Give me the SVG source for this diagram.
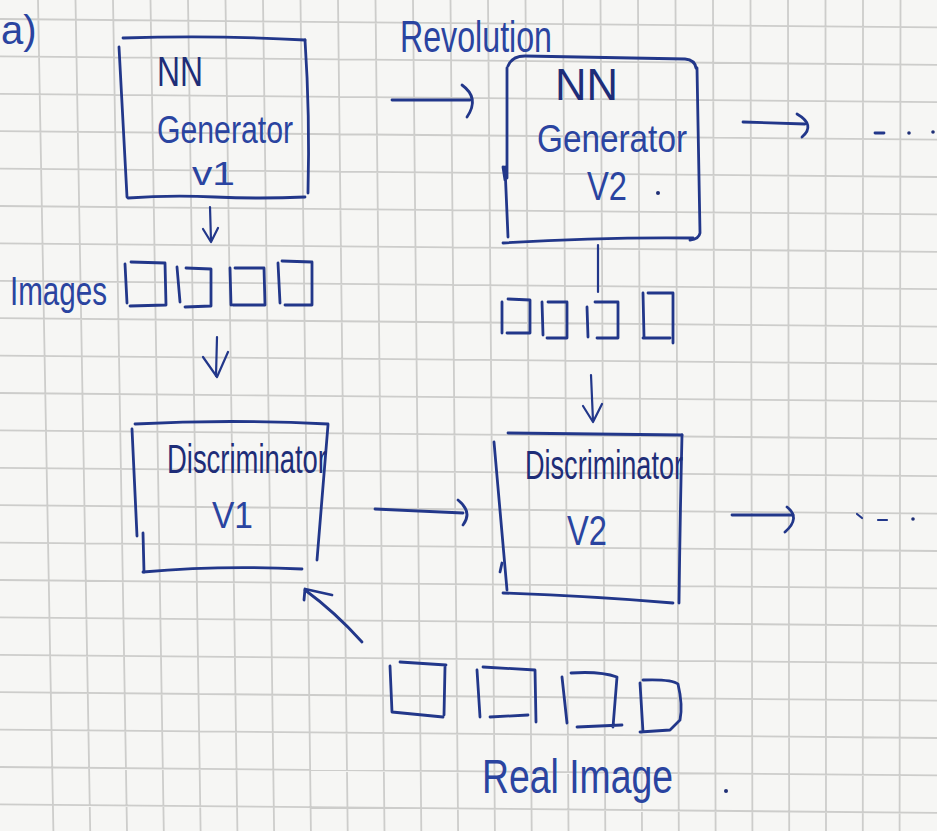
<svg xmlns="http://www.w3.org/2000/svg" width="937" height="831" viewBox="0 0 937 831">
  <style>
    .paper { fill: #f6f6f4; }
    .grid { fill: none; stroke: #cdcdcb; stroke-width: 1.8; }
    .ink { fill: none; stroke: #22378a; stroke-width: 2.8; stroke-linecap: round; stroke-linejoin: round; }
    .ink-thin { fill: none; stroke: #22378a; stroke-width: 2.2; stroke-linecap: round; stroke-linejoin: round; }
    .dot { fill: #1f2f75; }
    .hand { fill: #2a44a0; font-family: "Liberation Sans", "DejaVu Sans", sans-serif; }
    .hand-dark { fill: #1e2d78; font-family: "Liberation Sans", "DejaVu Sans", sans-serif; }
  </style>

  <!-- squared paper -->
  <rect class="paper" x="0" y="0" width="937" height="831"/>
  <path class="grid" d="
    M38,0 L53.4,831 M75.5,0 L90.2,831 M113,0 L127,831 M150.5,0 L163.8,831
    M188,0 L200.6,831 M225.5,0 L237.4,831 M263,0 L274.1,831 M300.5,0 L310.9,831
    M338,0 L347.7,831 M375.5,0 L384.5,831 M413,0 L421.3,831 M450.5,0 L458.1,831
    M488,0 L494.9,831 M525.5,0 L531.7,831 M563,0 L568.5,831 M600.5,0 L605.3,831
    M638,0 L642,831 M675.5,0 L678.8,831 M713,0 L715.6,831 M750.5,0 L752.4,831
    M788,0 L789.2,831 M825.5,0 L826,831 M863,0 L862.8,831 M900.5,0 L899.6,831
    M0,19 L937,27.4 M0,56.4 L937,64.8 M0,93.8 L937,102.2 M0,131.2 L937,139.6
    M0,168.6 L937,177 M0,206 L937,214.4 M0,243.4 L937,251.8 M0,280.8 L937,289.2
    M0,318.2 L937,326.6 M0,355.6 L937,364 M0,393 L937,401.4 M0,430.4 L937,438.8
    M0,467.8 L937,476.2 M0,505.2 L937,513.6 M0,542.6 L937,551 M0,580 L937,588.4
    M0,617.4 L937,625.8 M0,654.8 L937,663.2 M0,692.2 L937,700.6 M0,729.6 L937,738
    M0,767 L937,775.4 M0,804.4 L937,812.8"/>

  <!-- figure tag -->
  <text class="hand" x="1" y="44" font-size="40">a)</text>

  <!-- generator, first version -->
  <g id="gen-v1">
    <path class="ink" d="M123,38 Q215,35 305,40"/>
    <path class="ink" d="M119,47 L127,197"/>
    <path class="ink" d="M305,40 Q310,115 308,193"/>
    <path class="ink" d="M128,198 Q170,195 215,197 Q260,199 305,197"/>
    <text class="hand-dark" x="157" y="86" font-size="42" textLength="46" lengthAdjust="spacingAndGlyphs">NN</text>
    <text class="hand" x="157" y="143" font-size="38" textLength="136" lengthAdjust="spacingAndGlyphs">Generator</text>
    <text class="hand" x="192" y="185" font-size="34" textLength="43" lengthAdjust="spacingAndGlyphs">v1</text>
  </g>

  <!-- generator, second version -->
  <g id="gen-v2">
    <path class="ink" d="M508,66 Q512,56 525,56 L685,59 Q695,60 696,68"/>
    <path class="ink" d="M697,68 L700,233 Q699,239 690,240"/>
    <path class="ink" d="M507,68 L507,178"/>
    <path class="ink" d="M503,167 L505,180 M505,167 L508,237"/>
    <path class="ink" d="M503,243 Q600,237 693,238"/>
    <text class="hand-dark" x="555" y="100" font-size="44" textLength="63" lengthAdjust="spacingAndGlyphs">NN</text>
    <text class="hand" x="537" y="152" font-size="38" textLength="150" lengthAdjust="spacingAndGlyphs">Generator</text>
    <text class="hand" x="587" y="200" font-size="40" textLength="40" lengthAdjust="spacingAndGlyphs">V2</text>
    <circle class="dot" cx="658" cy="193" r="2"/>
  </g>

  <!-- discriminator, first version -->
  <g id="disc-v1">
    <path class="ink" d="M135,424 Q230,419 328,424"/>
    <path class="ink" d="M132,429 L137,536"/>
    <path class="ink" d="M143,533 L144,572"/>
    <path class="ink" d="M143,572 Q220,565 302,569"/>
    <path class="ink" d="M328,425 L317,560"/>
    <text class="hand-dark" x="167" y="473" font-size="40" textLength="160" lengthAdjust="spacingAndGlyphs">Discriminator</text>
    <text class="hand" x="212" y="528" font-size="36" textLength="41" lengthAdjust="spacingAndGlyphs">V1</text>
  </g>

  <!-- discriminator, second version -->
  <g id="disc-v2">
    <path class="ink" d="M508,433 L682,435"/>
    <path class="ink" d="M494,442 L507,590"/>
    <path class="ink" d="M502,563 L500,572"/>
    <path class="ink" d="M682,435 Q680,520 679,603"/>
    <path class="ink" d="M503,593 Q590,596 673,603"/>
    <text class="hand-dark" x="525" y="479" font-size="40" textLength="158" lengthAdjust="spacingAndGlyphs">Discriminator</text>
    <text class="hand" x="567" y="545" font-size="42" textLength="40" lengthAdjust="spacingAndGlyphs">V2</text>
  </g>

  <!-- generated images, first version -->
  <g id="images-v1">
    <text class="hand" x="10" y="305" font-size="40" textLength="97" lengthAdjust="spacingAndGlyphs">Images</text>
    <path class="ink" d="M125,264 L127,303 M131,262 L165,263 L166,305 L130,306"/>
    <path class="ink" d="M177,267 L180,302 M186,268 L211,269 L211,306 L185,307"/>
    <path class="ink" d="M230,268 L231,305 M235,268 L264,268 L265,305 L233,305"/>
    <path class="ink" d="M278,263 L280,303 M282,261 L312,262 L312,305 L285,305"/>
  </g>

  <!-- generated images, second version -->
  <g id="images-v2">
    <path class="ink" d="M502,302 L502,333 M508,299 L530,300 L530,333 L507,333"/>
    <path class="ink" d="M542,302 L543,335 M548,302 L567,302 L567,338 L547,338"/>
    <path class="ink" d="M587,307 L588,337 M595,302 L618,302 L618,338 L597,338"/>
    <path class="ink" d="M643,293 L644,337 M648,293 L673,293 L673,343 M643,338 L670,338"/>
  </g>

  <!-- real images -->
  <g id="real-images">
    <path class="ink" d="M400,662 L446,665 M390,666 L392,712 L443,717 M445,667 L444,715"/>
    <path class="ink" d="M477,670 L480,717 M483,667 L535,670 L536,722 M490,717 L528,715"/>
    <path class="ink" d="M562,677 L567,723 M571,673 Q600,671 617,677 L613,727 M577,727 L622,725"/>
    <path class="ink" d="M640,683 L643,732 M643,680 Q672,679 678,684 Q683,705 680,720 L670,730 L640,732"/>
    <text class="hand" x="482" y="793" font-size="48" textLength="191" lengthAdjust="spacingAndGlyphs">Real Image</text>
    <circle class="dot" cx="726" cy="791" r="2"/>
  </g>

  <!-- step label -->
  <text class="hand" x="400" y="52" font-size="44" textLength="152" lengthAdjust="spacingAndGlyphs">Revolution</text>

  <!-- connectors -->
  <g id="connectors">
    <!-- generator v1 to its images -->
    <path class="ink-thin" d="M210,207 L211,241"/>
    <path class="ink-thin" d="M203,229 L211,242 L218,228"/>
    <!-- images to discriminator v1 -->
    <path class="ink-thin" d="M217,337 L216,376"/>
    <path class="ink-thin" d="M203,357 L217,377 L228,352"/>
    <!-- generator v1 to generator v2 -->
    <path class="ink" d="M392,100 L470,100"/>
    <path class="ink" d="M462,85 Q480,98 467,117"/>
    <!-- generator v2 onwards -->
    <path class="ink" d="M743,122 L805,124"/>
    <path class="ink" d="M797,114 Q816,125 802,137"/>
    <path class="ink" d="M875,133 L884,133"/>
    <circle class="dot" cx="909" cy="133" r="1.8"/>
    <circle class="dot" cx="933" cy="132" r="1.8"/>
    <!-- generator v2 to its images -->
    <path class="ink-thin" d="M598,245 L598,292"/>
    <!-- images to discriminator v2 -->
    <path class="ink-thin" d="M591,375 L593,421"/>
    <path class="ink-thin" d="M583,406 L593,422 L602,404"/>
    <!-- discriminator v1 to discriminator v2 -->
    <path class="ink" d="M375,509 Q420,511 463,513"/>
    <path class="ink" d="M458,500 Q473,512 463,525"/>
    <!-- discriminator v2 onwards -->
    <path class="ink" d="M732,515 L793,515"/>
    <path class="ink" d="M787,507 Q801,518 785,532"/>
    <path class="ink-thin" d="M857,514 L862,518 M878,520 L887,520"/>
    <circle class="dot" cx="913" cy="519" r="1.8"/>
    <!-- real images to discriminator v1 -->
    <path class="ink" d="M362,642 Q335,612 305,590"/>
    <path class="ink" d="M304,600 L305,589 L332,595"/>
  </g>
</svg>
